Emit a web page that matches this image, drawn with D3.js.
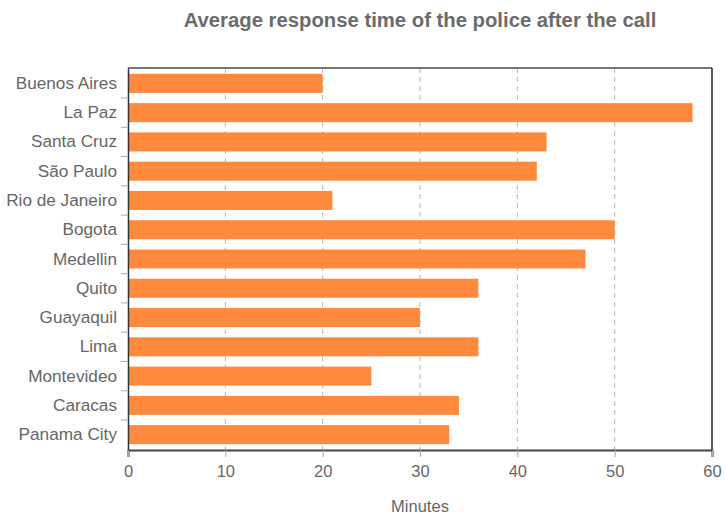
<!DOCTYPE html>
<html><head><meta charset="utf-8">
<script src="https://cdn.jsdelivr.net/npm/d3@7"></script>
<style>body{margin:0;background:#fff}svg{display:block}text{font-family:"Liberation Sans",Arial,Helvetica,sans-serif}</style>
</head><body>
<script>
const cities = ["Buenos Aires","La Paz","Santa Cruz","São Paulo","Rio de Janeiro","Bogota","Medellin","Quito","Guayaquil","Lima","Montevideo","Caracas","Panama City"];
const minutes = [20,58,43,42,21,50,47,36,30,36,25,34,33];
const xTicks = [0,10,20,30,40,50,60];
const title = "Average response time of the police after the call";
const xLabel = "Minutes";

const W = 725, H = 515;
const m = {left:128, right:13, top:68, bottom:65};
const iw = W - m.left - m.right, ih = H - m.top - m.bottom;
const svg = d3.select("body").append("svg").attr("width",W).attr("height",H);
const g = svg.append("g").attr("transform",`translate(${m.left},${m.top})`);

const x = d3.scaleLinear().domain([0,60]).range([0,iw]);
const y = d3.scaleBand().domain(cities).range([0,ih]).paddingInner(0.35).paddingOuter(0.2);

// grid
g.selectAll(".grid").data(xTicks.filter(t=>t>0&&t<60)).enter().append("line")
  .attr("x1",d=>x(d)).attr("x2",d=>x(d)).attr("y1",0).attr("y2",ih)
  .attr("stroke","#b5b5b5").attr("stroke-width",1).attr("stroke-dasharray","5,4");

// bars
g.selectAll(".bar").data(cities).enter().append("rect")
  .attr("x",0).attr("y",d=>y(d)).attr("height",y.bandwidth())
  .attr("width",(d,i)=>x(minutes[i])).attr("fill","#FF8A3D");

// frame
g.append("line").attr("x1",0).attr("x2",iw).attr("y1",0).attr("y2",0).attr("stroke","#777").attr("stroke-width",2);
g.append("line").attr("x1",iw).attr("x2",iw).attr("y1",0).attr("y2",ih).attr("stroke","#222").attr("stroke-width",1.5);

// x axis
const xa = g.append("g").attr("transform",`translate(0,${ih})`)
  .call(d3.axisBottom(x).tickValues(xTicks).tickSize(7).tickPadding(8));
xa.select(".domain").attr("stroke","#444").attr("stroke-width",2);
xa.selectAll(".tick line").attr("stroke","#aaa");
xa.selectAll("text").attr("fill","#666").attr("font-size",16.5);

// y axis with ticks at band boundaries
const ya = g.append("g").call(d3.axisLeft(y).tickSize(0).tickPadding(11));
ya.select(".domain").attr("stroke","#333").attr("stroke-width",1.5);
ya.selectAll("text").attr("fill","#666").attr("font-size",17.2);
const step = y.step();
g.selectAll(".ytick").data(d3.range(1,cities.length)).enter().append("line")
  .attr("x1",-7).attr("x2",0)
  .attr("y1",d=>y(cities[d]) - step*0.175).attr("y2",d=>y(cities[d]) - step*0.175)
  .attr("stroke","#aaa");

svg.append("text").attr("x",m.left+iw/2).attr("y",27).attr("text-anchor","middle")
  .attr("font-size",20.3).attr("font-weight","bold").attr("fill","#6b6b6b").text(title);
svg.append("text").attr("x",m.left+iw/2).attr("y",512).attr("text-anchor","middle")
  .attr("font-size",16.5).attr("fill","#666").text(xLabel);
</script>
</body></html>
